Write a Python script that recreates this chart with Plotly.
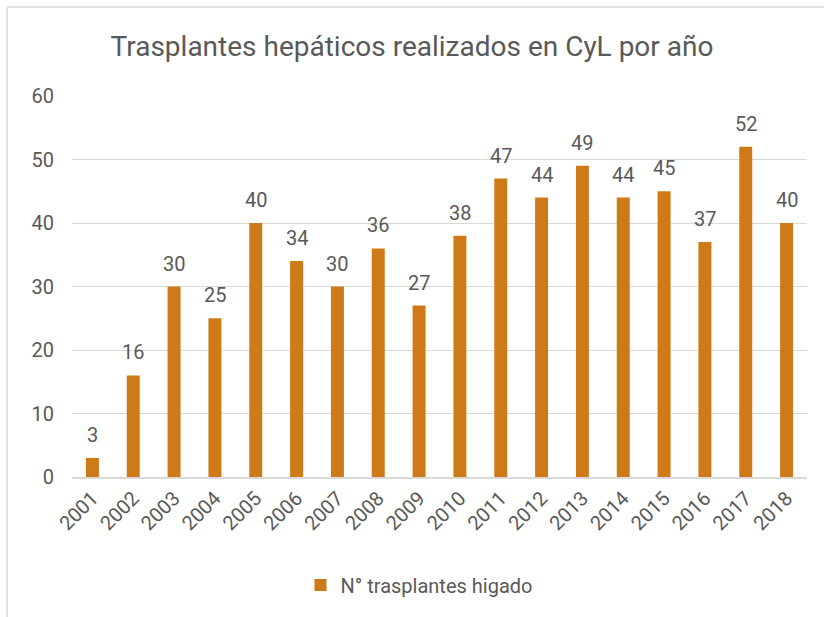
import plotly.graph_objects as go

years = ["2001", "2002", "2003", "2004", "2005", "2006", "2007", "2008", "2009",
         "2010", "2011", "2012", "2013", "2014", "2015", "2016", "2017", "2018"]
transplants = [3, 16, 30, 25, 40, 34, 30, 36, 27, 38, 47, 44, 49, 44, 45, 37, 52, 40]
series_name = "N° trasplantes higado"
title_text = "Trasplantes hepáticos realizados en CyL por año"
y_ticks = [0, 10, 20, 30, 40, 50, 60]

FONT = "Roboto, sans-serif"
GREY = "#595959"
BAR = "#CF7A19"

fig = go.Figure()
fig.add_trace(go.Bar(
    x=years, y=transplants, name=series_name,
    marker=dict(color=BAR, line=dict(width=0)),
    width=0.318, showlegend=True, hoverinfo="skip",
))

# data labels: category index positions on the category axis
for i, v in enumerate(transplants):
    fig.add_annotation(x=i, y=v, xref="x", yref="y", text=str(v), showarrow=False,
                       yanchor="bottom", yshift=9, font=dict(size=20, color=GREY, family=FONT))

W, H = 824, 617
L, R, T, B = 72, 17, 96, 140
pw, ph = W - L - R, H - T - B

def px_x(p):
    return (p - L) / pw

def px_y(p):
    return (H - B - p) / ph

fig.update_layout(
    width=W, height=H,
    margin=dict(l=L, r=R, t=T, b=B, autoexpand=False),
    paper_bgcolor="white", plot_bgcolor="white",
    font=dict(family=FONT, color=GREY, size=20),
    title=dict(text=title_text, x=0.5, xanchor="center", y=1 - 46 / H, yanchor="middle",
               font=dict(size=28, color=GREY, family=FONT)),
    xaxis=dict(type="category", range=[-0.5, len(years) - 0.5], tickangle=-45,
               tickfont=dict(size=20, color=GREY), showgrid=False,
               automargin=False, showline=True, linecolor="#D9D9D9", linewidth=1.5, ticks="", ticklen=0),
    yaxis=dict(range=[0, 60], tickvals=y_ticks, tickfont=dict(size=20, color=GREY), automargin=False,
               showgrid=True, gridcolor="#D9D9D9", gridwidth=1.2, zeroline=False,
               showline=False, ticks="", ticklabelstandoff=17),
    legend=dict(orientation="h", x=px_x(419), xanchor="center", y=px_y(585), yanchor="middle",
                font=dict(size=20, color=GREY)),
    shapes=[
        dict(type="line", xref="paper", yref="paper", x0=px_x(7), x1=px_x(7), y0=px_y(7), y1=px_y(640),
             line=dict(color="#D9D9D9", width=1.5)),
        dict(type="line", xref="paper", yref="paper", x0=px_x(7), x1=px_x(830), y0=px_y(7), y1=px_y(7),
             line=dict(color="#D9D9D9", width=1.5)),
    ],
)

fig.write_html("out.html", config={"displayModeBar": False},
               post_script="document.body.style.margin='0px';")
